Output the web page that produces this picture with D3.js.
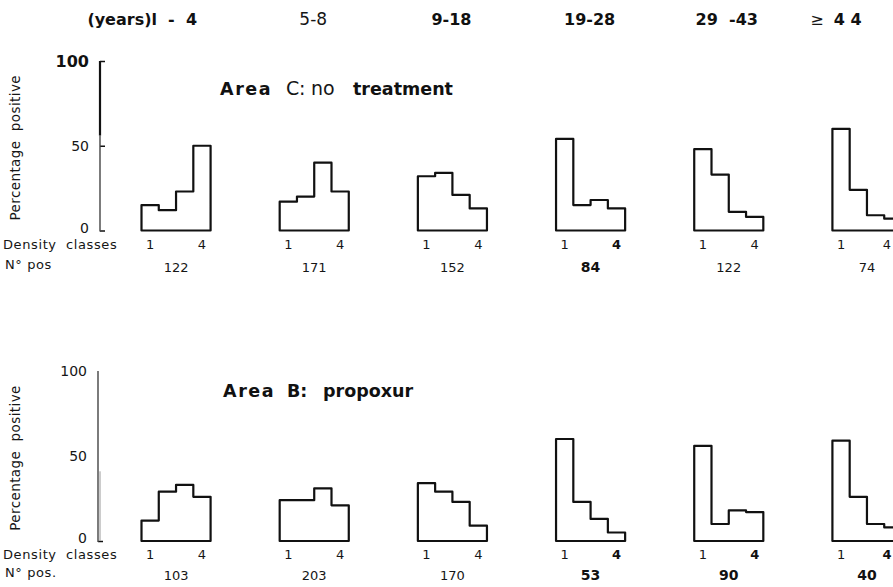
<!DOCTYPE html>
<html>
<head>
<meta charset="utf-8">
<script src="https://cdn.jsdelivr.net/npm/d3@7"></script>
<style>
  body { margin: 0; background: #fff; }
  svg { display: block; }
  .bold { font-family: "DejaVu Sans", sans-serif; font-weight: bold; fill: #111; }
  .light { font-family: "DejaVu Sans", sans-serif; font-weight: normal; fill: #161616; }
</style>
</head>
<body>
<svg id="chart"></svg>
<script>
'use strict'

// age groups (years) across the top
var ageGroups = ["1-4", "5-8", "9-18", "19-28", "29-43", "44+"];
var ageLabels = ["(years)l  -  4", "5-8", "9-18", "19-28", "29  -43", "4 4"];
var densityClasses = [1, 2, 3, 4];
var yTicks = [0, 50, 100];

// Area C: no treatment - percentage positive in density classes 1..4
var areaC = [
    [15, 12, 23, 50],
    [17, 20, 40, 23],
    [32, 34, 21, 13],
    [54, 15, 18, 13],
    [48, 33, 11, 8],
    [60, 24, 9, 7]
];
var areaCPos = ["122", "171", "152", "84", "122", "74"];

// Area B: propoxur
var areaB = [
    [12, 29, 33, 26],
    [24, 24, 31, 21],
    [34, 29, 23, 9],
    [60, 23, 13, 5],
    [56, 10, 18, 17],
    [59, 26, 10, 8]
];
var areaBPos = ["103", "203", "170", "53", "90", "40"];

var width = 893, height = 587;

var svg = d3.select("#chart")
    .attr("width", width)
    .attr("height", height);

var x = d3.scaleBand()
    .domain(ageGroups)
    .range([141.5, 901.5])
    .paddingInner(0.5)
    .paddingOuter(0);

var xc = d3.scaleBand()
    .domain(densityClasses)
    .range([0, x.bandwidth()]);

// header row with the age groups
var headerDx = [21, -1, -1, -1, -2, -31];
svg.append("g")
    .selectAll("text")
    .data(ageGroups)
    .enter().append("text")
    .attr("class", (d, i) => i === 1 ? "light" : "bold")
    .attr("x", (d, i) => x(d) + x.bandwidth() / 2 + headerDx[i])
    .attr("y", 25)
    .attr("text-anchor", (d, i) => i === 0 ? "end" : "middle")
    .style("font-size", (d, i) => i === 1 ? "17px" : "16px")
    .style("white-space", "pre")
    .each(function (d, i) {
        var t = d3.select(this);
        if (i === 5) {
            t.append("tspan").attr("class", "light").text("\u2265  ");
            t.append("tspan").text(ageLabels[i]);
        } else {
            t.text(ageLabels[i]);
        }
    });

var panels = [
    {
        values: areaC, pos: areaCPos, y0: 230.5, y1: 61, axisX: 100,
        title: [["Area", "bold", 220], ["C", "light", 286], [":", "light", 299], ["no", "light", 311], ["treatment", "bold", 353]],
        titleY: 95, classY: 249, posY: 272, posLabel: "N\u00b0 pos",
        boldPos: [false, false, false, true, false, false],
        boldFour: [false, false, false, true, false, false],
        boldTop: true, showTicks: [true, true, true], thickTo: 56, ghost: false
    },
    {
        values: areaB, pos: areaBPos, y0: 541, y1: 371, axisX: 98,
        title: [["Area", "bold", 223], ["B:", "bold", 287], ["propoxur", "bold", 323]],
        titleY: 397, classY: 559, posY: 580, posLabel: "N\u00b0 pos.",
        boldPos: [false, false, false, true, true, true],
        boldFour: [false, false, false, true, true, true],
        boldTop: false, showTicks: [true, false, false], thickTo: 100, ghost: true
    }
];

panels.forEach(drawPanel);

function drawPanel(p) {
    var y = d3.scaleLinear().domain([0, 100]).range([p.y0, p.y1]);
    var g = svg.append("g");

    // y axis, ticks point to the right
    var ax = g.append("g")
        .attr("transform", `translate(${p.axisX},0)`)
        .call(d3.axisLeft(y)
            .tickValues(yTicks)
            .tickSizeInner(-5)
            .tickSizeOuter(0)
            .tickPadding(11)
            .tickFormat(d3.format("d")));
    ax.select(".domain").remove();
    ax.attr("font-family", null).attr("font-size", null);
    ax.selectAll(".tick line")
        .attr("stroke", "#111")
        .attr("stroke-width", 1.5)
        .style("opacity", (d, i) => p.showTicks[i] ? 1 : 0);
    ax.selectAll(".tick text")
        .attr("class", (d) => (d === 100 && p.boldTop) ? "bold" : "light")
        .attr("fill", null)
        .attr("dy", (d) => d === 0 ? "0.12em" : "0.32em")
        .style("font-size", (d) => (d === 100 && p.boldTop) ? "16px" : "14px");

    g.append("line")
        .attr("x1", p.axisX).attr("x2", p.axisX)
        .attr("y1", y(100)).attr("y2", y(p.thickTo))
        .attr("stroke", "#111").attr("stroke-width", 2.2);
    g.append("line")
        .attr("x1", p.axisX).attr("x2", p.axisX)
        .attr("y1", y(p.thickTo)).attr("y2", y(0) + 1)
        .attr("stroke", "#444").attr("stroke-width", 1.4);
    if (p.ghost) {
        g.append("line")
            .attr("x1", p.axisX + 2).attr("x2", p.axisX + 2)
            .attr("y1", y(41)).attr("y2", y(0))
            .attr("stroke", "#999").attr("stroke-width", 1);
    }

    // y axis title
    g.append("text")
        .attr("class", "light")
        .attr("transform", `translate(20,${(y(0) + y(100)) / 2 + 2}) rotate(-90)`)
        .attr("text-anchor", "middle")
        .style("font-size", "13.5px")
        .style("letter-spacing", "0.4px")
        .style("white-space", "pre")
        .text("Percentage  positive");

    // panel title
    var title = g.append("text")
        .attr("y", p.titleY)
        .style("font-size", "17.5px");
    p.title.forEach((t) => {
        title.append("tspan")
            .attr("x", t[2])
            .attr("class", t[1])
            .style("font-size", t[1] === "light" ? "19px" : null)
            .style("letter-spacing", t[0] === "Area" ? "1.6px" : null)
            .text(t[0]);
    });

    g.append("text")
        .attr("class", "light")
        .attr("x", 3).attr("y", p.classY)
        .style("font-size", "13px")
        .style("letter-spacing", "0.6px")
        .style("white-space", "pre")
        .text("Density  classes");
    g.append("text")
        .attr("class", "light")
        .attr("x", 5).attr("y", p.posY - 3)
        .style("font-size", "13px")
        .style("letter-spacing", "0.6px")
        .style("white-space", "pre")
        .text(p.posLabel);

    var line = d3.line();

    var groups = g.selectAll(".hist")
        .data(p.values)
        .enter().append("g")
        .attr("class", "hist")
        .attr("transform", (d, i) => `translate(${x(ageGroups[i])},0)`);

    groups.append("path")
        .attr("d", (vals) => {
            var pts = [[0, y(0)]];
            vals.forEach((v, j) => {
                pts.push([xc(densityClasses[j]), y(v)]);
                pts.push([xc(densityClasses[j]) + xc.bandwidth(), y(v)]);
            });
            pts.push([x.bandwidth(), y(0)]);
            return line(pts) + "Z";
        })
        .attr("fill", "none")
        .attr("stroke", "#111")
        .attr("stroke-width", 2.2)
        .attr("stroke-linejoin", "round");

    groups.append("text")
        .attr("class", "light")
        .attr("x", xc(1) + xc.bandwidth() / 2)
        .attr("y", p.classY)
        .attr("text-anchor", "middle")
        .style("font-size", "13px")
        .text("1");

    // the last "4" is kept just inside the right edge
    groups.append("text")
        .attr("class", (d, i) => p.boldFour[i] ? "bold" : "light")
        .attr("x", (d, i) => Math.min(xc(4) + xc.bandwidth() / 2, width - 6 - x(ageGroups[i])))
        .attr("y", p.classY)
        .attr("text-anchor", "middle")
        .style("font-size", "13px")
        .text("4");

    groups.append("text")
        .attr("class", (d, i) => p.boldPos[i] ? "bold" : "light")
        .attr("x", x.bandwidth() / 2)
        .attr("y", p.posY)
        .attr("text-anchor", "middle")
        .style("font-size", (d, i) => p.boldPos[i] ? "14px" : "13px")
        .text((d, i) => p.pos[i]);
}
</script>
</body>
</html>
